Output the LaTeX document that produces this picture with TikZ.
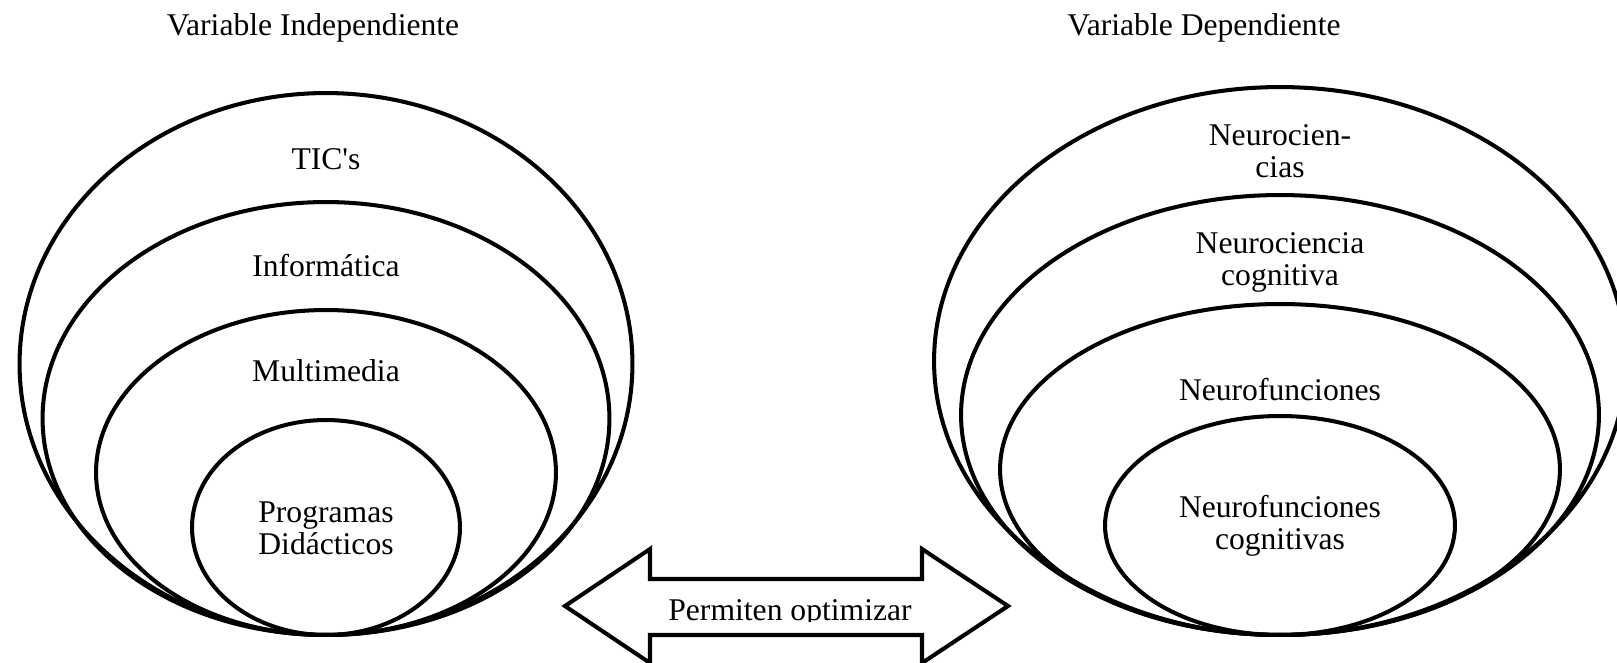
\documentclass[tikz,border=0pt]{standalone}
\usepackage{fontspec}
\setmainfont{Liberation Serif}
\usetikzlibrary{shapes.geometric}

\tikzset{
  ring/.style={draw, ellipse, line width=2.3pt, inner sep=0pt, outer sep=0pt},
  lbl/.style={font=\fontsize{18}{18}\selectfont, align=center, anchor=base, inner sep=0pt},
  bigarrow/.style={draw, line width=2.3pt, fill=white},
}

\begin{document}
\begin{tikzpicture}[x=0.02cm, y=-0.02cm]
    \useasboundingbox (0,0) rectangle (1617,663);

    \path (313,35) node[lbl] (vi-title) {Variable Independiente};
    \path (1204,35) node[lbl] (vd-title) {Variable Dependiente};

    % variable independiente
    \path (326,364) node[ring, minimum width=12.26cm, minimum height=10.84cm] (vi-tics) {};
    \path (326,418.5) node[ring, minimum width=11.34cm, minimum height=8.66cm] (vi-info) {};
    \path (326,472.5) node[ring, minimum width=9.2cm, minimum height=6.5cm] (vi-multi) {};
    \path (326,527.5) node[ring, minimum width=5.36cm, minimum height=4.3cm] (vi-prog) {};
    \path (326,169.5) node[lbl] (vi-tics-txt) {TIC\textquotesingle s};
    \path (326,276.5) node[lbl] (vi-info-txt) {Informática};
    \path (326,381.5) node[lbl] (vi-multi-txt) {Multimedia};
    \path (326,554) node[lbl] (vi-prog-txt) {Programas\\Didácticos};

    % variable dependiente
    \path (1280,361) node[ring, minimum width=13.84cm, minimum height=10.96cm] (vd-neuro) {};
    \path (1280,415) node[ring, minimum width=12.76cm, minimum height=8.8cm] (vd-cog) {};
    \path (1280,469.5) node[ring, minimum width=11.2cm, minimum height=6.62cm] (vd-func) {};
    \path (1280,525.5) node[ring, minimum width=7.0cm, minimum height=4.38cm] (vd-funcog) {};
    \path (1280,177.5) node[lbl] (vd-neuro-txt) {Neurocien-\\cias};
    \path (1280,285.5) node[lbl] (vd-cog-txt) {Neurociencia\\cognitiva};
    \path (1280,400) node[lbl] (vd-func-txt) {Neurofunciones};
    \path (1280,549) node[lbl] (vd-funcog-txt) {Neurofunciones\\cognitivas};

    % flecha doble
    \draw[bigarrow] (565,606) -- (650,549) -- (650,579) -- (922,579) -- (922,549) -- (1008,606)
        -- (922,663) -- (922,635) -- (650,635) -- (650,663) -- cycle;
    \begin{scope}
        \clip (650,579) rectangle (922,621);
        \path (790,620) node[lbl] (arrow-txt) {Permiten optimizar};
    \end{scope}
\end{tikzpicture}
\end{document}
